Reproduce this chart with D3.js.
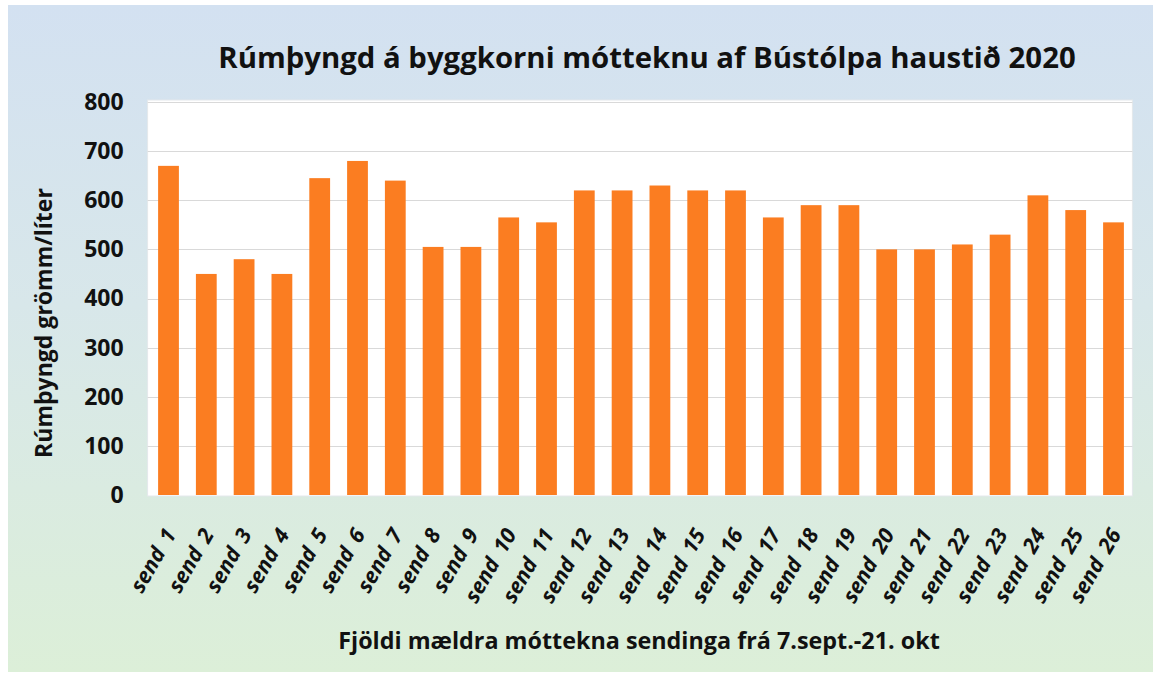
<!DOCTYPE html>
<html>
<head>
<meta charset="utf-8">
<script src="https://cdn.jsdelivr.net/npm/d3@7"></script>
<style>
  body { margin: 0; background: #fff; }
  svg { display: block; font-family: "Open Sans", "Noto Sans", sans-serif; }
</style>
</head>
<body>
<div id="chart"></div>
<script>
// data
const sends = d3.range(1, 27).map(i => "send " + i)
const values = [670, 450, 480, 450, 645, 680, 640, 505, 505, 565, 555, 620, 620,
                630, 620, 620, 565, 590, 590, 500, 500, 510, 530, 610, 580, 555]
const yTicks = [0, 100, 200, 300, 400, 500, 600, 700, 800]

const title = "Rúmþyngd á byggkorni mótteknu af Bústólpa haustið 2020"
const yTitle = "Rúmþyngd grömm/líter"
const xTitle = "Fjöldi mældra móttekna sendinga frá 7.sept.-21. okt"

const W = 1165, H = 675
const plot = { left: 149.6, right: 1132.4, top: 102, bottom: 495 }

const svg = d3.select("#chart").append("svg")
    .attr("width", W)
    .attr("height", H)

const defs = svg.append("defs")
const grad = defs.append("linearGradient")
    .attr("id", "bg").attr("x1", 0).attr("y1", 0).attr("x2", 0).attr("y2", 1)
grad.append("stop").attr("offset", "0%").attr("stop-color", "#d3e1f1")
grad.append("stop").attr("offset", "45%").attr("stop-color", "#d8e7ea")
grad.append("stop").attr("offset", "100%").attr("stop-color", "#dcefd8")

// background panel
svg.append("rect")
    .attr("x", 8).attr("y", 5)
    .attr("width", 1145).attr("height", 667)
    .attr("fill", "url(#bg)")

// white plot area
svg.append("rect")
    .attr("x", plot.left - 2).attr("y", plot.top - 2)
    .attr("width", plot.right - plot.left + 2)
    .attr("height", plot.bottom - plot.top + 3)
    .attr("fill", "#ffffff")
    .attr("stroke", "#e4e8ec")
    .attr("stroke-width", 1)

const x = d3.scaleBand()
    .domain(sends)
    .range([plot.left, plot.right])
    .paddingInner(0.45)
    .paddingOuter(0.225)

const y = d3.scaleLinear()
    .domain([0, 800])
    .range([plot.bottom, plot.top])

// gridlines
svg.append("g")
    .selectAll("line")
    .data(yTicks.filter(d => d > 0))
    .join("line")
    .attr("x1", plot.left - 2)
    .attr("x2", plot.right)
    .attr("y1", d => Math.round(y(d)) + 0.5)
    .attr("y2", d => Math.round(y(d)) + 0.5)
    .attr("stroke", "#d9d9d9")
    .attr("stroke-width", 1)

// bars
svg.append("g")
    .selectAll("rect")
    .data(values)
    .join("rect")
    .attr("x", (d, i) => x(sends[i]))
    .attr("y", d => y(d))
    .attr("width", x.bandwidth())
    .attr("height", d => y(0) - y(d))
    .attr("fill", "#fb7d21")

// y axis labels
const yAxis = svg.append("g")
    .attr("transform", `translate(${plot.left - 26},0)`)
    .call(d3.axisLeft(y).tickValues(yTicks).tickSize(0).tickPadding(0))
yAxis.select(".domain").remove()
yAxis.selectAll("text")
    .attr("font-family", "'Open Sans', sans-serif")
    .attr("font-size", 23)
    .attr("font-weight", 700)
    .attr("fill", "#111")

// x axis labels, rotated
const xAxis = svg.append("g")
    .attr("transform", `translate(0,${plot.bottom})`)
    .call(d3.axisBottom(x).tickSize(0).tickPadding(0))
xAxis.select(".domain").remove()
xAxis.selectAll("text")
    .attr("font-family", "'Open Sans', sans-serif")
    .attr("font-size", 21.5)
    .attr("font-weight", 700)
    .attr("font-style", "italic")
    .attr("word-spacing", 4)
    .attr("fill", "#111")
    .attr("text-anchor", "end")
    .attr("dominant-baseline", "central")
    .attr("y", 0)
    .attr("dy", 0)
    .attr("transform", "translate(1,35) rotate(-60)")

// fit a text element to a target width by adjusting its font size
function fit(sel, target) {
    const fs = +sel.attr("font-size")
    const w = sel.node().getComputedTextLength()
    sel.attr("font-size", fs * target / w)
}

// title
svg.append("text")
    .attr("x", 647)
    .attr("y", 68)
    .attr("text-anchor", "middle")
    .attr("font-size", 28)
    .attr("font-weight", 700)
    .attr("fill", "#111")
    .text(title)
    .call(fit, 858)

// y axis title
svg.append("text")
    .attr("transform", "translate(52,323) rotate(-90)")
    .attr("text-anchor", "middle")
    .attr("font-size", 21)
    .attr("font-weight", 700)
    .attr("fill", "#111")
    .text(yTitle)
    .call(fit, 270)

// x axis title
svg.append("text")
    .attr("x", 639)
    .attr("y", 649)
    .attr("text-anchor", "middle")
    .attr("font-size", 22)
    .attr("font-weight", 700)
    .attr("fill", "#111")
    .text(xTitle)
    .call(fit, 602)
</script>
</body>
</html>
